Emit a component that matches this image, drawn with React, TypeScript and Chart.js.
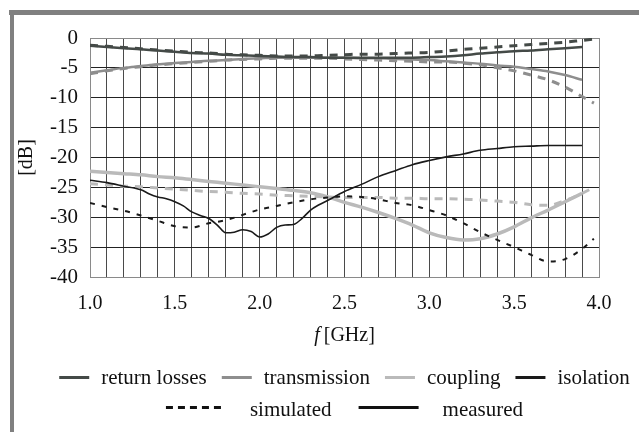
import React, { useEffect, useRef } from "react";
import { Chart, registerables } from "chart.js";

Chart.register(...registerables);

// ---- data ----
const freqs = [1.0, 1.1, 1.2, 1.3, 1.4, 1.5, 1.6, 1.7, 1.8, 1.9, 2.0, 2.1, 2.2, 2.3, 2.4, 2.5, 2.6, 2.7, 2.8, 2.9, 3.0, 3.1, 3.2, 3.3, 3.4, 3.5, 3.6, 3.7, 3.8, 3.9];
const simFreqs = [1.0, 1.1, 1.2, 1.3, 1.4, 1.5, 1.6, 1.7, 1.8, 1.9, 2.0, 2.1, 2.2, 2.3, 2.4, 2.5, 2.6, 2.7, 2.8, 2.9, 3.0, 3.1, 3.2, 3.3, 3.4, 3.5, 3.6, 3.7, 3.8, 3.9, 3.97];
const isoFreqs = [1.0, 1.1, 1.2, 1.3, 1.35, 1.4, 1.45, 1.5, 1.55, 1.6, 1.65, 1.7, 1.75, 1.8, 1.85, 1.9, 1.95, 2.0, 2.05, 2.1, 2.15, 2.2, 2.25, 2.3, 2.35, 2.4, 2.5, 2.6, 2.7, 2.8, 2.9, 3.0, 3.1, 3.2, 3.3, 3.4, 3.5, 3.6, 3.7, 3.8, 3.9];

const returnLossMeas = [-1.3, -1.5, -1.7, -1.9, -2.1, -2.3, -2.5, -2.6, -2.8, -2.9, -3.0, -3.1, -3.2, -3.2, -3.3, -3.3, -3.3, -3.3, -3.3, -3.3, -3.2, -3.1, -2.9, -2.6, -2.4, -2.2, -2.1, -1.9, -1.7, -1.5];
const returnLossSim = [-1.2, -1.4, -1.6, -1.8, -2.0, -2.2, -2.4, -2.5, -2.7, -2.8, -2.9, -3.0, -3.0, -3.0, -2.9, -2.8, -2.7, -2.7, -2.6, -2.5, -2.4, -2.2, -1.9, -1.7, -1.5, -1.3, -1.1, -0.9, -0.7, -0.4, -0.2];

const transmissionMeas = [-5.8, -5.4, -5.0, -4.7, -4.4, -4.2, -4.0, -3.8, -3.7, -3.5, -3.4, -3.3, -3.3, -3.3, -3.3, -3.3, -3.4, -3.4, -3.5, -3.6, -3.7, -3.9, -4.1, -4.3, -4.6, -4.8, -5.2, -5.6, -6.2, -7.0];
const transmissionSim = [-6.0, -5.5, -5.1, -4.8, -4.5, -4.3, -4.1, -3.9, -3.7, -3.6, -3.5, -3.4, -3.4, -3.4, -3.4, -3.5, -3.6, -3.7, -3.8, -3.9, -4.0, -4.0, -4.2, -4.5, -5.0, -5.5, -6.2, -7.0, -8.2, -9.8, -10.9];

const couplingMeas = [-22.3, -22.5, -22.7, -22.9, -23.2, -23.4, -23.7, -24.0, -24.3, -24.6, -24.9, -25.2, -25.5, -25.9, -26.6, -27.5, -28.3, -29.2, -30.2, -31.3, -32.6, -33.4, -33.8, -33.6, -32.8, -31.6, -30.1, -28.8, -27.4, -26.0];
const couplingSim = [-24.4, -24.6, -24.8, -24.9, -25.1, -25.3, -25.5, -25.7, -25.8, -26.0, -26.1, -26.3, -26.4, -26.5, -26.6, -26.7, -26.7, -26.7, -26.8, -26.8, -26.9, -26.9, -27.0, -27.1, -27.3, -27.5, -27.9, -28.0, -27.2, -26.0, -25.0];

const isolationMeas = [-23.8, -24.2, -24.8, -25.4, -26.1, -26.6, -26.9, -27.4, -28.1, -29.1, -29.7, -30.2, -31.3, -32.6, -32.5, -32.1, -32.4, -33.3, -32.8, -31.7, -31.3, -31.2, -30.2, -28.8, -27.9, -27.2, -25.7, -24.5, -23.2, -22.2, -21.2, -20.5, -19.9, -19.4, -18.8, -18.5, -18.2, -18.1, -18.0, -18.0, -18.0];
const isolationSim = [-27.6, -28.3, -28.9, -29.7, -30.6, -31.5, -31.7, -31.0, -30.5, -29.6, -28.7, -28.1, -27.5, -27.0, -26.7, -26.5, -26.6, -27.0, -27.6, -28.0, -28.8, -29.7, -31.0, -32.5, -33.8, -35.0, -36.3, -37.4, -37.0, -35.3, -33.6];

const seriesNames = ["return losses", "transmission", "coupling", "isolation"];
const styleNames = ["simulated", "measured"];
const xTitleItalic = "f";
const xTitleRest = "[GHz]";
const yTitle = "[dB]";

// ---- styles ----
const FONT = '"Liberation Serif", "Times New Roman", serif';
const seriesColors = ["#444a47", "#8e8e8e", "#bababa", "#1a1a1a"];
const measWidths = [2.5, 2.5, 3.5, 1.6];
const simWidths = [3, 3, 3, 2];

const toPts = (xs: number[], ys: number[]) => xs.map((x, i) => ({ x, y: ys[i] }));

const overlayPlugin = {
  id: "overlay",
  afterDraw(chart: any) {
    const ctx = chart.ctx as CanvasRenderingContext2D;
    const area = chart.chartArea;
    const cx = (area.left + area.right) / 2;
    ctx.save();
    ctx.fillStyle = "#111";
    ctx.textBaseline = "alphabetic";
    ctx.textAlign = "left";

    // x axis title with italic f
    ctx.font = `italic 20px ${FONT}`;
    const fW = ctx.measureText(xTitleItalic).width;
    ctx.font = `20px ${FONT}`;
    const gW = ctx.measureText(xTitleRest).width;
    const gap = 4;
    const tx = cx - (fW + gap + gW) / 2;
    const tBase = area.bottom + 64;
    ctx.font = `italic 20px ${FONT}`;
    ctx.fillText(xTitleItalic, tx, tBase);
    ctx.font = `20px ${FONT}`;
    ctx.fillText(xTitleRest, tx + fW + gap, tBase);

    // legend row 1
    ctx.font = `21px ${FONT}`;
    const lineW = 30, g1 = 12, g2 = 15;
    const widths = seriesNames.map((s) => ctx.measureText(s).width);
    const total1 = widths.reduce((a, b) => a + b, 0) + seriesNames.length * (lineW + g1) + (seriesNames.length - 1) * g2;
    let x = cx - total1 / 2;
    const r1Base = area.bottom + 107;
    const r1Line = area.bottom + 100.5;
    seriesNames.forEach((s, i) => {
      ctx.strokeStyle = seriesColors[i];
      ctx.lineWidth = 3;
      ctx.setLineDash([]);
      ctx.beginPath();
      ctx.moveTo(x, r1Line);
      ctx.lineTo(x + lineW, r1Line);
      ctx.stroke();
      x += lineW + g1;
      ctx.fillText(s, x, r1Base);
      x += widths[i] + g2;
    });

    // legend row 2
    const lw2 = 60, h1 = 24, h2 = 27;
    const w2 = styleNames.map((s) => ctx.measureText(s).width);
    const total2 = w2[0] + w2[1] + 2 * (lw2 + h1) + h2;
    x = cx - total2 / 2;
    const r2Base = area.bottom + 139;
    const r2Line = area.bottom + 130.5;
    styleNames.forEach((s, i) => {
      ctx.strokeStyle = "#111";
      ctx.lineWidth = 3;
      ctx.setLineDash(i === 0 ? [7, 5] : []);
      ctx.beginPath();
      ctx.moveTo(x, r2Line);
      ctx.lineTo(x + (i === 0 ? 55 : lw2), r2Line);
      ctx.stroke();
      x += lw2 + h1;
      ctx.fillText(s, x, r2Base);
      x += w2[i] + h2;
    });
    ctx.restore();
  },
};

export default function App() {
  const ref = useRef<HTMLCanvasElement | null>(null);

  useEffect(() => {
    if (!ref.current) return;
    const measData = [
      toPts(freqs, returnLossMeas),
      toPts(freqs, transmissionMeas),
      toPts(freqs, couplingMeas),
      toPts(isoFreqs, isolationMeas),
    ];
    const simData = [
      toPts(simFreqs, returnLossSim),
      toPts(simFreqs, transmissionSim),
      toPts(simFreqs, couplingSim),
      toPts(simFreqs, isolationSim),
    ];
    const drawOrder = [3, 0, 1, 2];
    const datasets: any[] = [];
    drawOrder.forEach((i) => {
      datasets.push({
        label: seriesNames[i] + " measured",
        data: measData[i],
        borderColor: seriesColors[i],
        borderWidth: measWidths[i],
        pointRadius: 0,
        cubicInterpolationMode: "monotone",
        fill: false,
      });
      datasets.push({
        label: seriesNames[i] + " simulated",
        data: simData[i],
        borderColor: seriesColors[i],
        borderWidth: simWidths[i],
        borderDash: i === 3 ? [5, 7] : [8, 7],
        pointRadius: 0,
        cubicInterpolationMode: "monotone",
        fill: false,
      });
    });

    const chart = new Chart(ref.current, {
      type: "line",
      data: { datasets },
      plugins: [overlayPlugin],
      options: {
        animation: false,
        responsive: false,
        devicePixelRatio: 1,
        layout: { padding: { left: 14, right: 40, top: 38, bottom: 0 } },
        plugins: { legend: { display: false }, tooltip: { enabled: false } },
        scales: {
          x: {
            type: "linear",
            min: 1,
            max: 4,
            afterFit: (s: any) => {
              s.height = 155;
            },
            ticks: {
              stepSize: 0.1,
              autoSkip: false,
              maxRotation: 0,
              minRotation: 0,
              padding: 15,
              color: "#111",
              font: { family: FONT, size: 20 },
              callback: (v: any) => {
                const t = Math.round(Number(v) * 10);
                return t % 5 === 0 ? (t / 10).toFixed(1) : "";
              },
            },
            grid: {
              drawTicks: false,
              lineWidth: 1,
              color: (c: any) => {
                const v = c.tick ? Math.round(c.tick.value * 10) : 0;
                return v === 40 || v === 10 ? "#8a8a8a" : "#4a4a4a";
              },
            },
            border: { color: "#8a8a8a", width: 1 },
          },
          y: {
            min: -40,
            max: 0,
            afterFit: (s: any) => {
              s.width = 76;
            },
            ticks: {
              stepSize: 5,
              padding: 12,
              color: "#111",
              font: { family: FONT, size: 21 },
            },
            title: {
              display: true,
              text: yTitle,
              color: "#111",
              font: { family: FONT, size: 20 },
              padding: { top: 1, bottom: 0 },
            },
            grid: {
              drawTicks: false,
              lineWidth: 1,
              color: (c: any) => {
                const v = c.tick ? c.tick.value : 0;
                return v === 0 || v === -40 ? "#8a8a8a" : "#222";
              },
            },
            border: { color: "#8a8a8a", width: 1 },
          },
        },
      },
    });
    return () => chart.destroy();
  }, []);

  return (
    <div style={{ position: "fixed", left: 0, top: 0, width: 639, height: 432, background: "#fff", overflow: "hidden" }}>
      <canvas ref={ref} width={639} height={432} style={{ position: "absolute", left: 0, top: 0, width: 639, height: 432 }} />
      <div style={{ position: "absolute", left: 9, top: 10, width: 630, height: 5, background: "#808080" }} />
      <div style={{ position: "absolute", left: 10, top: 10, width: 4, height: 422, background: "#808080" }} />
    </div>
  );
}
